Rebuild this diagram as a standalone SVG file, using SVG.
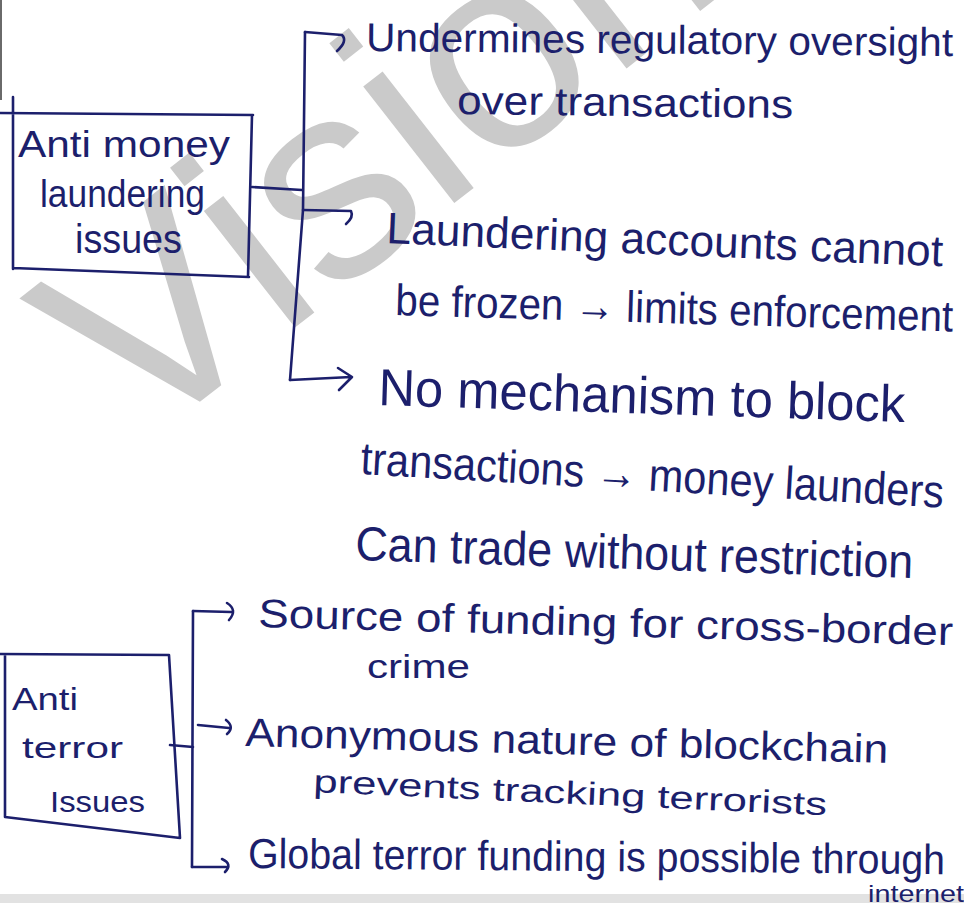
<svg xmlns="http://www.w3.org/2000/svg" width="964" height="903" viewBox="0 0 964 903">
  <style>
    .ink { fill: none; stroke: #1c1f6c; stroke-width: 2.6; stroke-linecap: round; stroke-linejoin: round; }
    .hand { font-family: "Liberation Sans", "DejaVu Sans", sans-serif; fill: #1c1f6c; }
    .mark { font-family: "Liberation Sans", "DejaVu Sans", sans-serif; fill: #cacaca; }
  </style>

  <rect width="964" height="903" fill="#ffffff"/>

  <!-- background watermark -->
  <text class="mark" x="137" y="451" font-size="280" transform="rotate(-38 137 451)">Vision</text>

  <!-- scan edge marks -->
  <line x1="1" y1="0" x2="1" y2="100" stroke="#6a6a6a" stroke-width="2"/>
  <rect x="0" y="894" width="964" height="9" fill="#e2e2e2"/>

  <!-- node: anti money laundering issues -->
  <g id="node-aml">
    <path class="ink" d="M0,113 L253,115 M252,115 L248,277 M249,277 L13,268 M13,97 L13,269"/>
    <text class="hand" x="18" y="157" font-size="36" textLength="212" lengthAdjust="spacingAndGlyphs">Anti money</text>
    <text class="hand" x="40" y="207" font-size="38" textLength="165" lengthAdjust="spacingAndGlyphs">laundering</text>
    <text class="hand" x="75" y="253" font-size="40" textLength="107" lengthAdjust="spacingAndGlyphs">issues</text>
  </g>

  <!-- node: anti terror issues -->
  <g id="node-terror">
    <path class="ink" d="M0,654 L169,655 M169,655 L180,838 M180,838 L5,817 M5,655 L5,817"/>
    <text class="hand" x="12" y="710" font-size="32" textLength="66" lengthAdjust="spacingAndGlyphs">Anti</text>
    <text class="hand" x="22" y="758" font-size="30" textLength="101" lengthAdjust="spacingAndGlyphs">terror</text>
    <text class="hand" x="50" y="812" font-size="30" textLength="95" lengthAdjust="spacingAndGlyphs">Issues</text>
  </g>

  <!-- items: anti money laundering -->
  <g id="item-oversight">
    <text class="hand" x="366" y="51" font-size="40" textLength="587" lengthAdjust="spacingAndGlyphs" transform="rotate(0.5 366 51)">Undermines regulatory oversight</text>
    <text class="hand" x="457" y="114" font-size="40" textLength="336" lengthAdjust="spacingAndGlyphs" transform="rotate(0.7 457 114)">over transactions</text>
  </g>
  <g id="item-frozen">
    <text class="hand" x="386" y="243" font-size="44" textLength="557" lengthAdjust="spacingAndGlyphs" transform="rotate(2.4 386 243)">Laundering accounts cannot</text>
    <text class="hand" x="395" y="315" font-size="44" textLength="558" lengthAdjust="spacingAndGlyphs" transform="rotate(1.7 395 315)">be frozen → limits enforcement</text>
  </g>
  <g id="item-block">
    <text class="hand" x="378" y="405" font-size="52" textLength="527" lengthAdjust="spacingAndGlyphs" transform="rotate(1.85 378 405)">No mechanism to block</text>
    <text class="hand" x="360" y="474" font-size="46" textLength="584" lengthAdjust="spacingAndGlyphs" transform="rotate(3.3 360 474)">transactions → money launders</text>
    <text class="hand" x="355" y="560" font-size="48" textLength="558" lengthAdjust="spacingAndGlyphs" transform="rotate(1.85 355 560)">Can trade without restriction</text>
  </g>

  <!-- items: anti terror -->
  <g id="item-source">
    <text class="hand" x="258" y="627" font-size="40" textLength="695" lengthAdjust="spacingAndGlyphs" transform="rotate(1.5 258 627)">Source of funding for cross-border</text>
    <text class="hand" x="367" y="678" font-size="34" textLength="103" lengthAdjust="spacingAndGlyphs">crime</text>
  </g>
  <g id="item-anonymous">
    <text class="hand" x="245" y="746" font-size="40" textLength="643" lengthAdjust="spacingAndGlyphs" transform="rotate(1.5 245 746)">Anonymous nature of blockchain</text>
    <text class="hand" x="313" y="792" font-size="32" textLength="514" lengthAdjust="spacingAndGlyphs" transform="rotate(2.6 313 792)">prevents tracking terrorists</text>
  </g>
  <g id="item-global">
    <text class="hand" x="248" y="868" font-size="42" textLength="697" lengthAdjust="spacingAndGlyphs" transform="rotate(0.5 248 868)">Global terror funding is possible through</text>
    <text class="hand" x="868" y="902" font-size="24" textLength="96" lengthAdjust="spacingAndGlyphs">internet</text>
  </g>

  <!-- connectors -->
  <g id="connectors">
    <!-- money laundering bracket -->
    <path class="ink" d="M252,187 L302,190"/>
    <path class="ink" d="M305,32 L303,210 L290,380"/>
    <path class="ink" d="M305,32 L342,35 Q348,41 337,51"/>
    <path class="ink" d="M303,210 L351,211 Q354,217 346,224"/>
    <path class="ink" d="M290,380 L351,377 M338,368 L352,377 L339,390"/>
    <!-- terror bracket -->
    <path class="ink" d="M170,745 L193,747"/>
    <path class="ink" d="M193,611 L192,867"/>
    <path class="ink" d="M193,611 L231,612 M227,603 Q238,610 229,620"/>
    <path class="ink" d="M198,725 L229,728 M226,720 Q235,727 227,734"/>
    <path class="ink" d="M192,867 L227,867 M222,859 Q233,864 225,872"/>
  </g>
</svg>
